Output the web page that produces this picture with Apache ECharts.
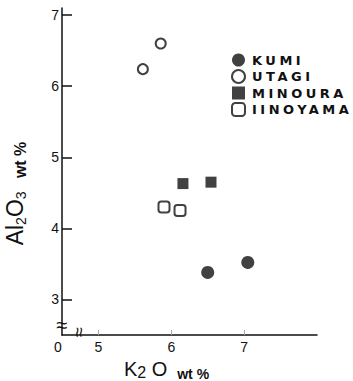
<!DOCTYPE html>
<html>
<head>
<meta charset="utf-8">
<script src="https://cdn.jsdelivr.net/npm/echarts@6/dist/echarts.min.js"></script>
<style>
  html, body { margin: 0; padding: 0; background: #fff; }
  #chart { width: 353px; height: 381px; }
  /* legend lettering in the original is widely spaced */
  #chart text[style*="DejaVu Sans"] { letter-spacing: 3.5px; }
</style>
</head>
<body>
<div id="chart"></div>
<script>
// K2O wt% , Al2O3 wt%
var kumi = [[6.50, 3.38], [7.05, 3.52]];
var utagi = [[5.61, 6.24], [5.855, 6.60]];
var minoura = [[6.16, 4.63], [6.545, 4.65]];
var iinoyama = [[5.90, 4.30], [6.12, 4.25]];

var xTicks = [5, 6, 7];
var yTicks = [3, 4, 5, 6, 7];
var xMin = 4.5, xMax = 8;
var yMin = 2.5, yMax = 7.1;

(function() {
  var ink = '#111';
  var font = 'Liberation Sans';
  var chart = echarts.init(document.getElementById('chart'), null, { renderer: 'svg' });

  var filled = { color: ink };
  var open = { color: '#fff', borderColor: ink, borderWidth: 2 };

  chart.setOption({
    animation: false,
    textStyle: { fontFamily: font },
    grid: { left: 62, right: 36, top: 8, bottom: 46, outerBoundsMode: 'none' },
    legend: {
      orient: 'vertical',
      left: 226,
      top: 48,
      itemWidth: 13,
      itemHeight: 13,
      itemGap: 2,
      textStyle: { fontFamily: 'DejaVu Sans', fontWeight: 'bold', fontSize: 13, lineHeight: 14, color: ink, padding: [0, 0, 0, 2] },
      data: ['KUMI', 'UTAGI', 'MINOURA', 'IINOYAMA']
    },
    xAxis: {
      type: 'value',
      min: xMin,
      max: xMax,
      name: '{t|K}{s|2}{t| O}   {w|wt %}',
      nameLocation: 'middle',
      nameGap: 21,
      nameTextStyle: {
        padding: [0, 46, 0, 0],
        rich: {
          t: { fontSize: 20, color: ink, lineHeight: 24 },
          s: { fontSize: 16, color: ink, lineHeight: 16, verticalAlign: 'bottom' },
          w: { fontSize: 14, fontWeight: 'bold', color: ink, lineHeight: 17, verticalAlign: 'bottom' }
        }
      },
      axisLine: { lineStyle: { color: ink, width: 1.5 } },
      axisTick: { show: true, inside: true, length: 5, customValues: xTicks, lineStyle: { color: '#aaa', width: 1 } },
      axisLabel: {
        customValues: [xMin].concat(xTicks),
        margin: 5,
        fontSize: 14,
        color: ink,
        formatter: function(v) { return v === xMin ? '{z|0}' : String(v); },
        rich: { z: { fontSize: 14, color: ink, padding: [0, 8, 0, 0] } }
      },
      splitLine: { show: false }
    },
    yAxis: {
      type: 'value',
      min: yMin,
      max: yMax,
      name: '{t|Al}{s|2}{t|O}{s|3}    {w|wt %}',
      nameLocation: 'middle',
      nameRotate: 90,
      nameGap: 34,
      nameTextStyle: {
        padding: [0, 44, 0, 0],
        rich: {
          t: { fontSize: 23, color: ink, lineHeight: 26 },
          s: { fontSize: 14, color: ink, lineHeight: 12, verticalAlign: 'bottom' },
          w: { fontSize: 16, fontWeight: 'bold', color: ink, lineHeight: 19, verticalAlign: 'bottom' }
        }
      },
      axisLine: { show: true, lineStyle: { color: ink, width: 1.5 } },
      axisTick: { show: true, inside: true, length: 10, customValues: yTicks, lineStyle: { color: ink, width: 1.5 } },
      axisLabel: { customValues: yTicks, margin: 3, fontSize: 14, color: ink },
      splitLine: { show: false }
    },
    series: [
      { name: 'KUMI', type: 'scatter', symbol: 'circle', symbolSize: 13, itemStyle: filled, data: kumi },
      { name: 'UTAGI', type: 'scatter', symbol: 'circle', symbolSize: 10, itemStyle: open, data: utagi },
      { name: 'MINOURA', type: 'scatter', symbol: 'rect', symbolSize: 11, itemStyle: filled, data: minoura },
      { name: 'IINOYAMA', type: 'scatter', symbol: 'roundRect', symbolSize: 11, itemStyle: open, data: iinoyama }
    ]
  });

  // axis break marks, placed through the axis scales
  var py = chart.convertToPixel({ gridIndex: 0 }, [xMin, 2.64]);
  var px = chart.convertToPixel({ gridIndex: 0 }, [4.74, yMin]);
  chart.setOption({
    graphic: [
      { type: 'text', x: py[0], y: py[1], style: { text: '≈', fontSize: 20, fill: ink, align: 'center', verticalAlign: 'middle' } },
      { type: 'text', x: px[0], y: px[1] - 3, rotation: Math.PI / 2, style: { text: '≈', fontSize: 18, fill: ink, align: 'center', verticalAlign: 'middle' } }
    ]
  });
})();
</script>
</body>
</html>
